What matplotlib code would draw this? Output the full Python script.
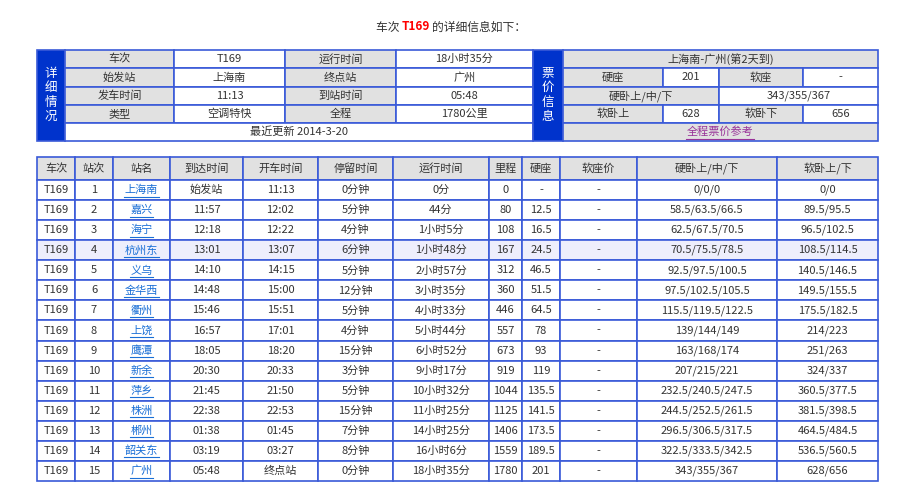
import matplotlib
matplotlib.use("Agg")
import matplotlib.pyplot as plt
from matplotlib.patches import Rectangle

plt.rcParams['font.family'] = ['Noto Sans CJK SC', 'DejaVu Sans']

train = "T169"
summary_labels = ["车次", "始发站", "发车时间", "类型"]
summary_values = ["T169", "上海南", "11:13", "空调特快"]
summary_labels2 = ["运行时间", "终点站", "到站时间", "全程"]
summary_values2 = ["18小时35分", "广州", "05:48", "1780公里"]
update_text = "最近更新 2014-3-20"
route_text = "上海南-广州(第2天到)"
price_hard_seat = "201"; price_soft_seat = "-"
price_hard_sleeper = "343/355/367"
price_soft_upper = "628"; price_soft_lower = "656"

headers = ["车次", "站次", "站名", "到达时间", "开车时间", "停留时间", "运行时间", "里程", "硬座", "软座价", "硬卧上/中/下", "软卧上/下"]
stations = ["上海南", "嘉兴", "海宁", "杭州东", "义乌", "金华西", "衢州", "上饶", "鹰潭", "新余", "萍乡", "株洲", "郴州", "韶关东", "广州"]
arrive = ["始发站", "11:57", "12:18", "13:01", "14:10", "14:48", "15:46", "16:57", "18:05", "20:30", "21:45", "22:38", "01:38", "03:19", "05:48"]
depart = ["11:13", "12:02", "12:22", "13:07", "14:15", "15:00", "15:51", "17:01", "18:20", "20:33", "21:50", "22:53", "01:45", "03:27", "终点站"]
stop = ["0分钟", "5分钟", "4分钟", "6分钟", "5分钟", "12分钟", "5分钟", "4分钟", "15分钟", "3分钟", "5分钟", "15分钟", "7分钟", "8分钟", "0分钟"]
runtime = ["0分", "44分", "1小时5分", "1小时48分", "2小时57分", "3小时35分", "4小时33分", "5小时44分", "6小时52分", "9小时17分", "10小时32分", "11小时25分", "14小时25分", "16小时6分", "18小时35分"]
mileage = ["0", "80", "108", "167", "312", "360", "446", "557", "673", "919", "1044", "1125", "1406", "1559", "1780"]
hard_seat = ["-", "12.5", "16.5", "24.5", "46.5", "51.5", "64.5", "78", "93", "119", "135.5", "141.5", "173.5", "189.5", "201"]
soft_seat = ["-"] * 15
hard_sleeper = ["0/0/0", "58.5/63.5/66.5", "62.5/67.5/70.5", "70.5/75.5/78.5", "92.5/97.5/100.5", "97.5/102.5/105.5", "115.5/119.5/122.5", "139/144/149", "163/168/174", "207/215/221", "232.5/240.5/247.5", "244.5/252.5/261.5", "296.5/306.5/317.5", "322.5/333.5/342.5", "343/355/367"]
soft_sleeper = ["0/0", "89.5/95.5", "96.5/102.5", "108.5/114.5", "140.5/146.5", "149.5/155.5", "175.5/182.5", "214/223", "251/263", "324/337", "360.5/377.5", "381.5/398.5", "464.5/484.5", "536.5/560.5", "628/656"]

BLUE = "#3a5ad8"; DARK = "#0033cc"; GRAY = "#e1e1e1"; TXT = "#333333"; LINK = "#1a6fd6"
FS = 8

fig = plt.figure(figsize=(9.02, 5.0), dpi=100)
ax = fig.add_axes([0, 0, 1, 1])
ax.set_xlim(0, 902); ax.set_ylim(500, 0); ax.axis('off')

def cell(x0, x1, y0, y1, text="", fc="white", color=TXT, **kw):
    ax.add_patch(Rectangle((x0, y0), x1 - x0, y1 - y0, facecolor=fc, edgecolor=BLUE, lw=1.2))
    if text:
        ax.text((x0 + x1) / 2, (y0 + y1) / 2, text, ha='center', va='center', fontsize=FS, color=color, **kw)

# title
ax.text(402, 27, "车次 ", ha='right', va='center', fontsize=8.5, color=TXT)
ax.text(402, 27, train, ha='left', va='center', fontsize=8.5, color='red', fontweight='bold')
ax.text(432, 27, "的详细信息如下：", ha='left', va='center', fontsize=8.5, color=TXT)

# top tables
ry = [50, 68, 87, 105, 123, 141]
ax.add_patch(Rectangle((37, 50), 28, 91, facecolor=DARK, edgecolor=BLUE, lw=1.2))
ax.text(51, 95, "\n".join("详细情况"), ha='center', va='center', fontsize=FS + 1, color='white', linespacing=1.15)
for i in range(4):
    cell(65, 174, ry[i], ry[i+1], summary_labels[i], GRAY)
    cell(174, 285, ry[i], ry[i+1], summary_values[i])
    cell(285, 396, ry[i], ry[i+1], summary_labels2[i], GRAY)
    cell(396, 533, ry[i], ry[i+1], summary_values2[i])
cell(65, 533, ry[4], ry[5], update_text)

ax.add_patch(Rectangle((533, 50), 30, 91, facecolor=DARK, edgecolor=BLUE, lw=1.2))
ax.text(548, 95, "\n".join("票价信息"), ha='center', va='center', fontsize=FS + 1, color='white', linespacing=1.15)
cell(563, 878, ry[0], ry[1], route_text, GRAY)
cell(563, 663, ry[1], ry[2], "硬座", GRAY); cell(663, 719, ry[1], ry[2], price_hard_seat)
cell(719, 803, ry[1], ry[2], "软座", GRAY); cell(803, 878, ry[1], ry[2], price_soft_seat)
cell(563, 719, ry[2], ry[3], "硬卧上/中/下", GRAY); cell(719, 878, ry[2], ry[3], price_hard_sleeper)
cell(563, 663, ry[3], ry[4], "软卧上", GRAY); cell(663, 719, ry[3], ry[4], price_soft_upper)
cell(719, 803, ry[3], ry[4], "软卧下", GRAY); cell(803, 878, ry[3], ry[4], price_soft_lower)
cell(563, 878, ry[4], ry[5], "全程票价参考", GRAY, color="#993399")
ax.plot([686, 754], [139, 139], color="#993399", lw=0.8)

# main table
cx = [37, 75, 113, 170, 243, 318, 393, 489, 522, 560, 637, 777, 878]
y0 = 157; hh = 23; rh = 20.07
for j, h in enumerate(headers):
    cell(cx[j], cx[j+1], y0, y0 + hh, h, GRAY)
cols = [[train] * 15, [str(i + 1) for i in range(15)], stations, arrive, depart, stop, runtime,
        mileage, hard_seat, soft_seat, hard_sleeper, soft_sleeper]
for i in range(15):
    ya = y0 + hh + i * rh; yb = ya + rh
    fc = "#eeeefc" if i == 3 else "white"
    for j, col in enumerate(cols):
        if j == 2:
            cell(cx[j], cx[j+1], ya, yb, col[i], fc, color=LINK)
            w = len(col[i]) * 11.5
            mid = (cx[j] + cx[j+1]) / 2
            ax.plot([mid - w / 2, mid + w / 2], [yb - 3.5, yb - 3.5], color=LINK, lw=0.8)
        else:
            cell(cx[j], cx[j+1], ya, yb, col[i], fc)

fig.savefig("out.png", dpi=100)
